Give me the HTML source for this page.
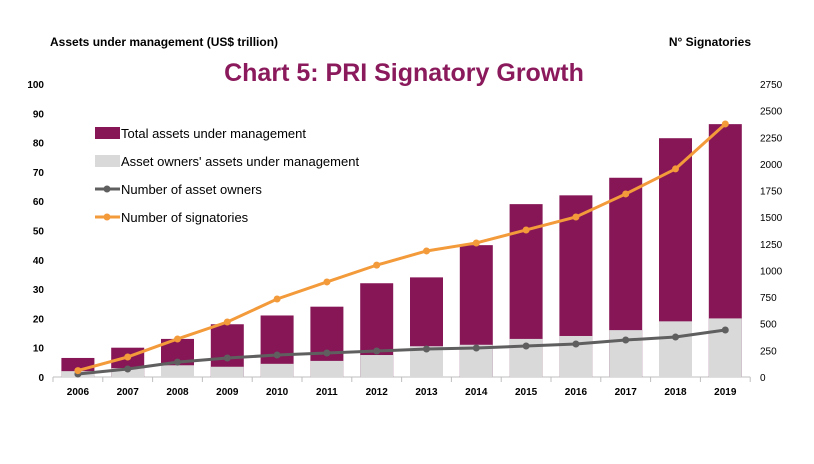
<!DOCTYPE html>
<html><head><meta charset="utf-8"><style>
body{margin:0;background:#fff;width:814px;height:464px;overflow:hidden}
svg{display:block;font-family:"Liberation Sans",Arial,sans-serif}
</style></head><body>
<svg id="chart" width="814" height="464">
<text x="50" y="46" font-size="12" font-weight="bold">Assets under management (US$ trillion)</text>
<text x="751" y="46" font-size="12" font-weight="bold" text-anchor="end">N° Signatories</text>
<text x="404" y="81" font-size="25" font-weight="bold" fill="#8a1a5c" text-anchor="middle">Chart 5: PRI Signatory Growth</text>
<g id="axes"></g><g id="bars"></g><g id="lines"></g>
<g font-size="13">
<rect x="95" y="127" width="25" height="12" fill="#861656"/>
<text x="121" y="138">Total assets under management</text>
<rect x="95" y="155" width="25" height="12" fill="#d9d9d9"/>
<text x="121" y="166">Asset owners' assets under management</text>
<line x1="95" y1="189" x2="120" y2="189" stroke="#5f5f5f" stroke-width="3"/><circle cx="107" cy="189" r="3.5" fill="#5f5f5f"/>
<text x="121" y="194">Number of asset owners</text>
<line x1="95" y1="217" x2="120" y2="217" stroke="#f39a3a" stroke-width="3"/><circle cx="107" cy="217" r="3.5" fill="#f39a3a"/>
<text x="121" y="222">Number of signatories</text>
</g>
</svg>
<script>
const years=[2006,2007,2008,2009,2010,2011,2012,2013,2014,2015,2016,2017,2018,2019];
const totalAum=[6.5,10,13,18,21,24,32,34,45,59,62,68,81.5,86.3];
const ownerAum=[2,3,4,3.5,4.5,5.5,7.5,10.5,11,13,14,16,19,20];
const signatories=[60,188,357,516,732,892,1050,1183,1258,1380,1502,1718,1953,2375];
const assetOwners=[28,75,140,178,206,225,244,263,272,291,310,347,375,441];
const leftTicks=[0,10,20,30,40,50,60,70,80,90,100];
const rightTicks=[0,250,500,750,1000,1250,1500,1750,2000,2250,2500,2750];
const NS="http://www.w3.org/2000/svg";
const x0=53,step=49.8,yBase=377,yTop=84;
const xc=i=>x0+step*(i+0.5);
const yL=v=>yBase-(yBase-yTop)*v/100;
const yR=v=>yBase-(yBase-yTop)*v/2750;
function mk(tag,attrs,parent,txt){const e=document.createElementNS(NS,tag);for(const k in attrs)e.setAttribute(k,attrs[k]);if(txt!==undefined)e.textContent=txt;document.getElementById(parent).appendChild(e);return e;}
leftTicks.forEach(t=>{const e=mk('text',{x:44,y:yL(t)+4,'font-size':10,'font-weight':'bold','text-anchor':'end'},'axes',t);

});
rightTicks.forEach(t=>{const e=mk('text',{x:760,y:yR(t)+4,'font-size':10},'axes',t);

});
const ax=mk('line',{x1:x0,y1:yBase,x2:x0+step*years.length,y2:yBase,stroke:'#bfbfbf'},'axes');


for(let i=0;i<=years.length;i++)mk('line',{x1:x0+step*i,y1:yBase,x2:x0+step*i,y2:yBase+5,stroke:'#bfbfbf'},'axes');
years.forEach((y,i)=>{const e=mk('text',{x:xc(i),y:395,'font-size':10,'font-weight':'bold','text-anchor':'middle'},'axes',y);


const b=mk('rect',{x:xc(i)-16.5,y:yL(totalAum[i]),width:33,height:yBase-yL(totalAum[i]),fill:'#861656'},'bars');


const g=mk('rect',{x:xc(i)-16.5,y:yL(ownerAum[i]),width:33,height:yBase-yL(ownerAum[i]),fill:'#d9d9d9'},'bars');

});
function series(vals,color,name){
const p=mk('polyline',{points:vals.map((v,i)=>xc(i)+','+yR(v)).join(' '),fill:'none',stroke:color,'stroke-width':3},'lines');


vals.forEach((v,i)=>{const c=mk('circle',{cx:xc(i),cy:yR(v),r:3.5,fill:color},'lines');

});}
series(assetOwners,'#5f5f5f','asset-owners');
series(signatories,'#f39a3a','signatories');
</script>
</body></html>
